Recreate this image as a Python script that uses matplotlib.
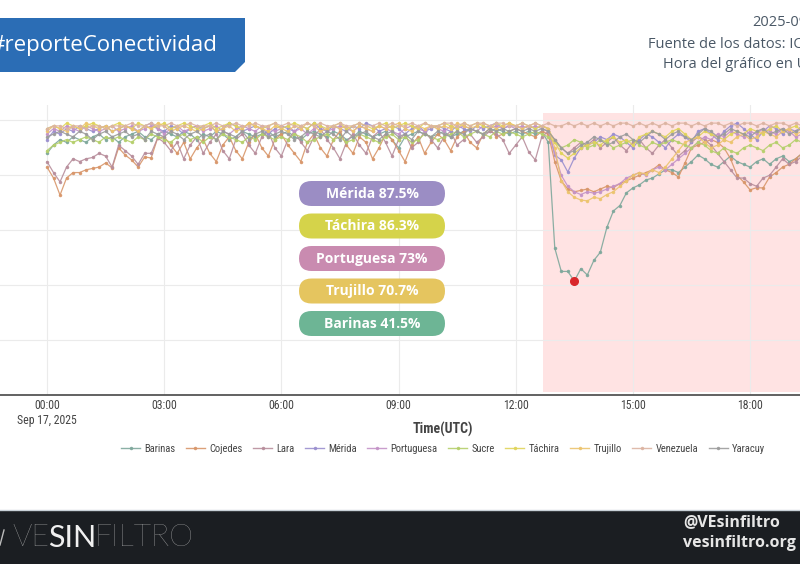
import matplotlib.pyplot as plt
import numpy as np
from matplotlib import font_manager
from matplotlib.patches import Rectangle, FancyBboxPatch, Polygon
from matplotlib.lines import Line2D

plt.rcParams['font.family'] = ['Open Sans', 'DejaVu Sans']
installed = {f.name for f in font_manager.fontManager.ttflist}
narrow = [f for f in ['Liberation Sans Narrow', 'Roboto Condensed'] if f in installed] + ['DejaVu Sans']
thin = 'Lato' if 'Lato' in installed else 'DejaVu Sans'

# one reading every 10 minutes from 00:00 UTC
hours = np.arange(118) / 6

barinas = [88, 91, 93, 92, 94, 93, 92, 94, 95, 93, 94, 92,
           94, 95, 96, 94, 93, 95, 96, 95, 94, 96, 95, 93,
           95, 94, 96, 95, 93, 94, 96, 95, 94, 95, 96, 94,
           95, 96, 94, 93, 95, 96, 95, 94, 96, 95, 93, 94,
           96, 95, 94, 95, 96, 93, 90, 94, 95, 96, 95, 94,
           95, 96, 94, 95, 96, 97, 96, 95, 96, 97, 96, 95,
           96, 95, 96, 95, 96, 92, 53.5, 45, 45, 41.5, 46, 43.7,
           49, 52, 61, 67, 69, 73.6, 75.4, 76.5, 78.3, 79, 80.5, 82,
           82, 81, 83, 85, 87.4, 86, 84, 83, 85, 87, 85, 84,
           83, 85, 86, 84, 86, 87, 85, 86, 88, 87]
cojedes = [83, 79, 72.8, 79, 81, 81, 82, 82.5, 83, 84.5, 82.7, 90,
           87.4, 85.6, 83, 86.7, 86.3, 93.6, 94, 91, 88, 92, 86, 90,
           93, 88, 85, 91, 94, 89, 86, 92, 95, 90, 87, 93,
           95, 91, 88, 85, 92, 95, 90, 87, 93, 96, 91, 88,
           94, 92, 86, 90, 95, 93, 89, 85, 91, 94, 88, 92,
           95, 93, 89, 94, 96, 92, 90, 95, 97, 94, 95, 96,
           97, 96, 95, 94, 96, 95, 85, 78, 75, 74, 74.5, 75,
           74, 75, 76, 75.5, 77, 78, 79, 80, 81, 82, 83.8, 82,
           81, 79.4, 84.5, 90, 91, 92, 93, 92, 90, 86, 80, 77.6,
           74.7, 75.5, 75.4, 79.4, 81, 83, 84, 86, 88, 87]
lara = [85, 81, 77.6, 83, 86, 85, 86, 86.5, 88, 87, 83, 91,
        89, 87, 84, 88, 88, 93.6, 92, 89, 92, 86, 91, 94,
        88, 92, 95, 89, 86, 93, 95, 91, 88, 94, 96, 90,
        87, 93, 96, 92, 89, 94, 97, 93, 90, 86, 92, 95,
        91, 88, 94, 96, 92, 87, 93, 95, 90, 92, 96, 93,
        90, 94, 96, 91, 93, 95, 92, 94, 96, 95, 93, 88,
        91, 94, 88.5, 85.6, 94, 96, 93, 90, 88, 90, 92, 91,
        93, 90, 92, 94, 91, 89, 92, 93, 90, 88, 91, 93,
        90, 87, 89, 92, 94, 93, 91, 88, 85, 82, 79, 79,
        77, 76, 79, 80, 83, 86, 84, 85, 87, 86]
merida = [93, 96, 95, 97, 96, 98, 97, 96, 97, 98, 96, 97,
          98, 97, 96, 98, 99, 97, 96, 98, 97, 95, 97, 98,
          97, 98, 96, 97, 99, 98, 96, 97, 98, 97, 95, 97,
          98, 97, 96, 98, 97, 99, 97, 96, 98, 97, 96, 98,
          97, 99, 98, 96, 97, 98, 97, 95, 97, 98, 96, 97,
          98, 97, 96, 98, 97, 96, 98, 97, 98, 99, 97, 98,
          98, 97, 98, 97, 98, 97, 87.4, 85.6, 81.2, 86.3, 90, 91,
          92, 94, 93, 95, 94, 92, 90, 93, 95, 94, 92, 90,
          93, 95, 94, 92, 96, 97, 95, 93, 96, 98, 99, 97,
          95, 93, 96, 98, 97, 95, 97, 96, 98, 97]
portuguesa = [95, 97, 96, 98, 97, 96, 98, 97, 96, 97, 98, 96,
              97, 98, 96, 97, 98, 97, 95, 97, 98, 96, 97, 98,
              96, 97, 98, 96, 95, 97, 98, 97, 96, 98, 97, 96,
              97, 98, 96, 97, 95, 97, 98, 96, 97, 98, 97, 96,
              98, 97, 96, 98, 97, 96, 95, 97, 98, 97, 96, 98,
              97, 96, 98, 97, 98, 97, 96, 98, 97, 98, 97, 98,
              97, 98, 97, 98, 97, 96, 88, 80, 76, 74, 73, 74,
              73.5, 74, 75, 76, 77, 79, 80, 81, 80, 82, 83, 82,
              84, 86, 88, 90, 92, 94, 93, 95, 94, 96, 95, 94,
              96, 95, 97, 96, 95, 97, 96, 94, 95, 96]
sucre = [89, 91, 92, 93, 92, 93, 94, 93, 92, 94, 93, 94,
         93, 92, 94, 93, 95, 94, 93, 92, 94, 95, 93, 94,
         92, 94, 93, 95, 94, 93, 92, 94, 93, 95, 94, 93,
         94, 93, 95, 94, 92, 93, 94, 95, 93, 94, 92, 93,
         95, 94, 93, 92, 94, 95, 93, 94, 92, 93, 95, 94,
         93, 94, 95, 96, 94, 95, 96, 95, 94, 96, 95, 96,
         95, 94, 95, 96, 95, 94, 92, 90, 91, 93, 92, 90,
         91, 93, 92, 90, 91, 92, 93, 91, 90, 92, 91, 92,
         93, 92, 91, 90, 92, 91, 89, 88, 90, 89, 88, 90,
         91, 90, 89, 91, 92, 90, 91, 93, 92, 91]
tachira = [97, 98, 97, 99, 98, 97, 98, 99, 98, 97, 98, 99,
           98, 97, 99, 98, 97, 98, 99, 97, 98, 99, 98, 97,
           98, 99, 97, 98, 99, 98, 97, 99, 98, 97, 98, 99,
           97, 98, 99, 98, 97, 99, 98, 97, 98, 99, 97, 98,
           99, 98, 97, 98, 99, 97, 98, 99, 98, 97, 99, 98,
           98, 99, 98, 97, 99, 98, 99, 98, 97, 99, 98, 99,
           98, 99, 98, 97, 98, 97, 92, 88, 86.3, 88, 90, 91,
           92, 91, 93, 94, 92, 93, 91, 94, 95, 96, 95, 94,
           96, 97, 95, 93, 94, 96, 95, 94, 93, 95, 96, 95,
           97, 96, 95, 97, 98, 96, 97, 98, 96, 97]
trujillo = [96, 98, 97, 96, 98, 97, 99, 98, 97, 98, 96, 97,
            98, 97, 96, 98, 97, 99, 98, 96, 97, 98, 97, 96,
            97, 98, 96, 97, 98, 96, 97, 99, 98, 97, 96, 98,
            97, 96, 98, 97, 99, 98, 96, 97, 98, 97, 98, 96,
            98, 97, 96, 98, 97, 98, 99, 97, 96, 98, 97, 98,
            97, 98, 97, 99, 98, 97, 98, 99, 98, 97, 98, 99,
            98, 97, 98, 99, 98, 97, 90, 78, 74, 72, 71, 70.7,
            72, 71.5, 73, 74, 76, 78, 80, 81, 80.5, 82, 81, 83,
            86, 89, 92, 93, 94, 92, 90, 91, 93, 92, 94, 95,
            93, 94, 96, 95, 94, 96, 97, 95, 96, 97]
venezuela = [97, 98, 98, 97, 98, 98, 97, 98, 98, 97, 98, 98,
             98, 99, 98, 98, 99, 98, 98, 99, 98, 98, 99, 98,
             98, 98, 99, 98, 98, 99, 98, 98, 99, 98, 98, 99,
             98, 99, 98, 98, 99, 98, 99, 98, 98, 99, 98, 98,
             99, 98, 98, 99, 98, 99, 98, 98, 99, 98, 99, 98,
             98, 99, 99, 98, 99, 98, 99, 99, 98, 99, 99, 98,
             98, 99, 98, 99, 98, 99, 98, 98, 99, 98, 99, 98,
             99, 98, 99, 98, 99, 99, 98, 99, 98, 99, 98, 99,
             98, 99, 99, 98, 99, 98, 99, 99, 98, 99, 98, 99,
             99, 98, 99, 98, 99, 99, 98, 99, 98, 99]
yaracuy = [94, 95, 96, 95, 94, 96, 95, 93, 95, 96, 94, 95,
           96, 94, 95, 93, 96, 95, 94, 96, 95, 93, 95, 96,
           94, 95, 93, 96, 95, 94, 96, 93, 95, 96, 94, 95,
           96, 95, 93, 94, 96, 95, 94, 96, 95, 93, 96, 94,
           95, 96, 94, 93, 95, 96, 94, 95, 93, 96, 95, 94,
           96, 95, 94, 96, 95, 97, 96, 95, 97, 96, 97, 96,
           97, 96, 97, 96, 97, 96, 93, 90, 88, 89, 91, 92,
           94, 93, 91, 92, 94, 95, 93, 92, 94, 96, 95, 93,
           95, 96, 94, 93, 95, 97, 96, 94, 95, 97, 96, 95,
           94, 96, 97, 95, 96, 97, 95, 96, 97, 96]

states = ["Barinas", "Cojedes", "Lara", "Mérida", "Portuguesa",
          "Sucre", "Táchira", "Trujillo", "Venezuela", "Yaracuy"]
series = [barinas, cojedes, lara, merida, portuguesa,
          sucre, tachira, trujillo, venezuela, yaracuy]
colors = ['#7fa89c', '#d8966a', '#b88e9c', '#9a8fcf', '#c493c7',
          '#b5cf6b', '#e0d45a', '#ecc46e', '#dcb4a2', '#9c9c9c']

badges = ["Mérida 87.5%", "Táchira 86.3%", "Portuguesa 73%",
          "Trujillo 70.7%", "Barinas 41.5%"]
badge_colors = ['#9b8dc4', '#d5d34a', '#c98bb0', '#e5c55f', '#6db595']

tick_hours = [0, 3, 6, 9, 12, 15, 18]
tick_labels = ["00:00\nSep 17, 2025", "03:00", "06:00", "09:00",
               "12:00", "15:00", "18:00"]
event_start = 12.7
lowest = 81  # index of the Barinas minimum (13:30)

fig = plt.figure(figsize=(8, 5.64), dpi=100, facecolor='white')
ax = fig.add_axes([0, 1 - 395 / 564, 1, 290 / 564])

ax.add_patch(Rectangle((event_start, 1), 10, 101.7, color='red',
                       alpha=0.11, lw=0, zorder=0.5))
for name, vals, col in zip(states, series, colors):
    ax.plot(hours, vals, color=col, lw=0.9, marker='o', ms=1.5,
            alpha=0.9, label=name, zorder=2)
ax.plot(hours[lowest], barinas[lowest], 'o', color='#d9262b', ms=5.5, zorder=5)

ax.set_xlim(-47 / 39.06, 753 / 39.06)
ax.set_ylim(0, 105.6)
ax.set_xticks(tick_hours)
ax.set_xticklabels(tick_labels, family=narrow, fontsize=8.5, color='#444444')
ax.set_yticks([20, 40, 60, 80, 100])
ax.set_yticklabels([])
ax.tick_params(length=0)
ax.tick_params(axis='x', pad=3)
ax.grid(color='#ebebeb', lw=0.8)
ax.set_axisbelow(True)
for s in ['left', 'right', 'top']:
    ax.spines[s].set_visible(False)
ax.spines['bottom'].set_color('#555555')
ax.spines['bottom'].set_linewidth(1.3)

handles = [Line2D([], [], color=c, lw=1, marker='o', ms=1.5, alpha=0.9) for c in colors]
leg = fig.legend(handles, states, loc='center', bbox_to_anchor=(443 / 800, 1 - 449 / 564),
                 ncol=10, frameon=False, handlelength=1.8,
                 columnspacing=1.0, handletextpad=0.4, prop={'family': narrow, 'size': 7.6})
for t in leg.get_texts():
    t.set_color('#444444')

# decorations in pixel coordinates
deco = fig.add_axes([0, 0, 1, 1], zorder=5)
deco.set_xlim(0, 800)
deco.set_ylim(564, 0)
deco.axis('off')
deco.patch.set_alpha(0)

deco.add_patch(Polygon([(0, 18), (245, 18), (245, 62), (235, 72), (0, 72)],
                       closed=True, color='#2b6db5', lw=0))
deco.text(217, 46, "#reporteConectividad", ha='right', va='center',
          color='white', fontsize=16)

info_color = '#4a5866'
deco.text(752, 22, "2025-09-17", ha='left', va='center', fontsize=10.5, color=info_color)
deco.text(648, 44, "Fuente de los datos: IODA", ha='left', va='center', fontsize=10.5, color=info_color)
deco.text(663, 65, "Hora del gráfico en UTC", ha='left', va='center', fontsize=10.5, color=info_color)

for i, (txt, col) in enumerate(zip(badges, badge_colors)):
    yc = 193.5 + i * 32.5
    deco.add_patch(FancyBboxPatch((299, yc - 12.5), 146, 25,
                                  boxstyle="round,pad=0,rounding_size=12.5",
                                  color=col, lw=0))
    deco.text(372, yc, txt, ha='center', va='center', color='white',
              fontsize=10, fontweight='bold')

deco.text(443, 429, "Time(UTC)", ha='center', va='center', fontsize=10,
          fontweight='bold', color='#444444', family=narrow)

# footer banner
deco.add_patch(Rectangle((0, 510), 800, 54, color='#1b1e22', lw=0))
deco.plot([0, 800], [510, 510], color='#c9d1d8', lw=1)
deco.plot([0, 4], [545, 530], color='#bbbbbb', lw=1)
deco.text(12, 538, "VE", ha='left', va='center', fontsize=22, color='#b8b8b8',
          family=thin, fontweight=200)
deco.text(48, 538, "SIN", ha='left', va='center', fontsize=22, color='#f0f0f0',
          family=thin, fontweight='normal')
deco.text(94, 538, "FILTRO", ha='left', va='center', fontsize=22, color='#b8b8b8',
          family=thin, fontweight=200)
deco.text(683, 522, "@VEsinfiltro", ha='left', va='center', fontsize=11.5,
          color='#e6e6e6', fontweight='bold')
deco.text(683, 543, "vesinfiltro.org", ha='left', va='center', fontsize=11.5,
          color='#e6e6e6', fontweight='bold')

fig.savefig("out.png", dpi=100, facecolor='white')
